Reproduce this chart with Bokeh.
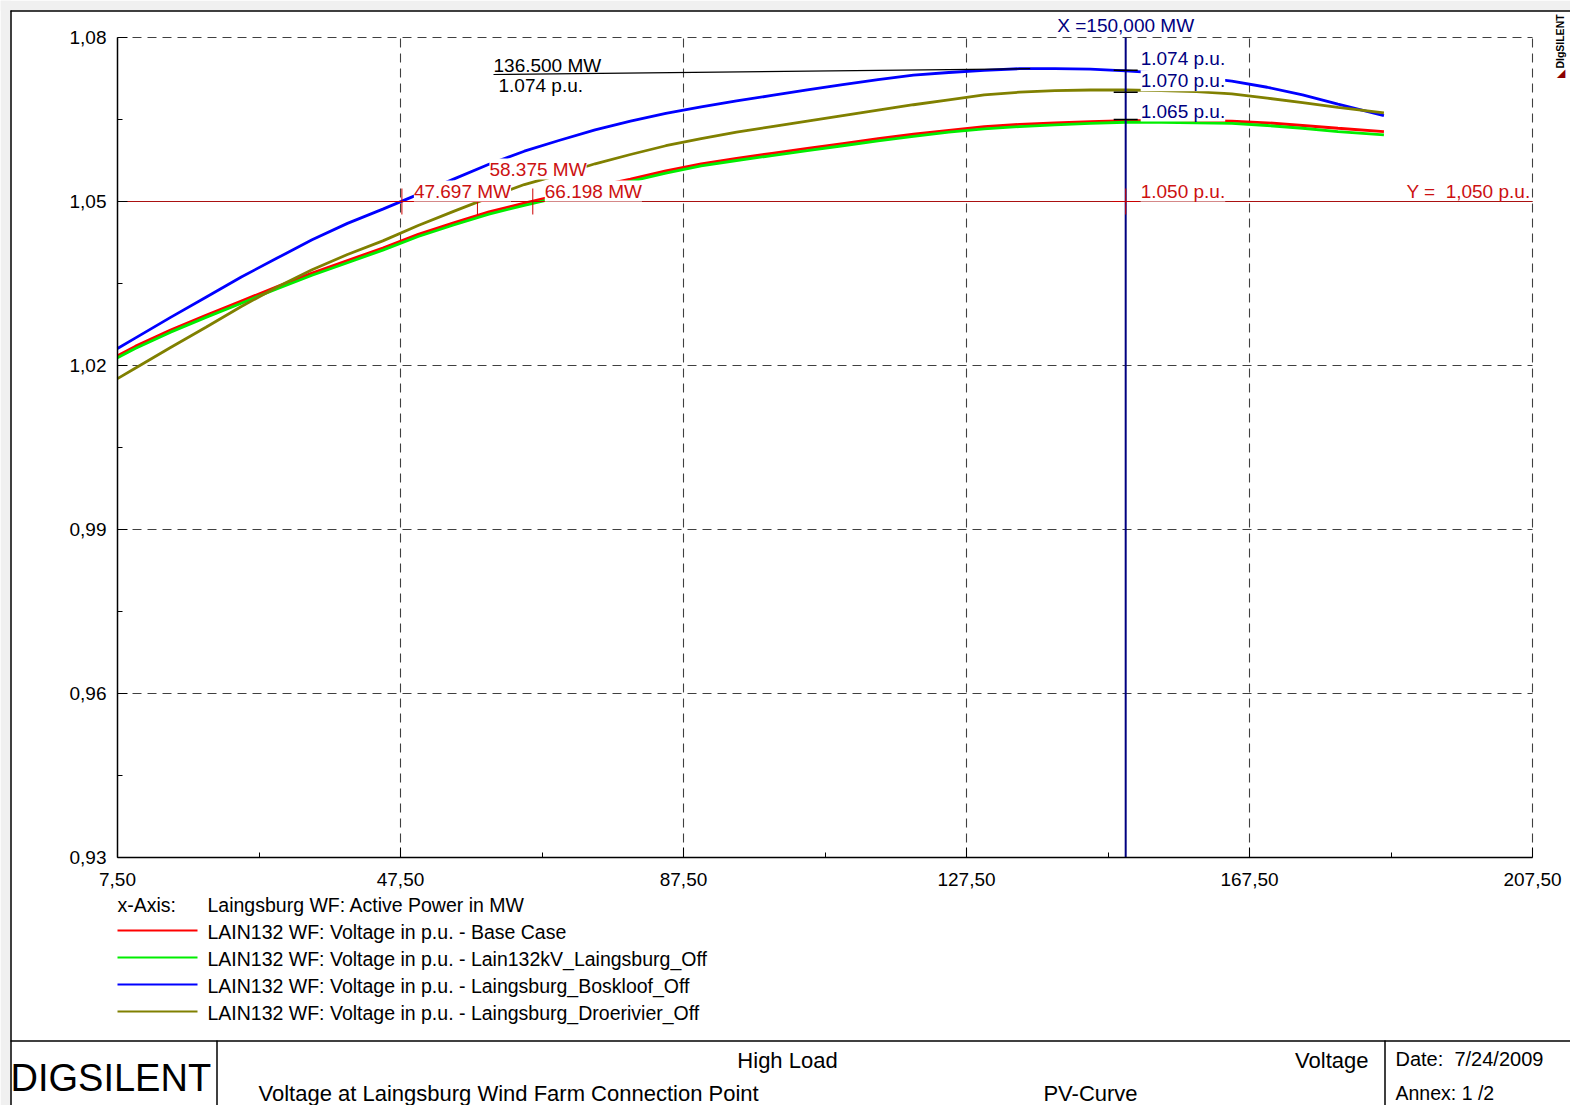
import math
from bokeh.plotting import figure
from bokeh.models import Range1d, FixedTicker, CustomJSTickFormatter, Label, LinearAxis
from bokeh.embed import file_html
from bokeh.resources import INLINE
from bokeh.core.properties import value

FONT = "Liberation Sans"

# ---------------- data ----------------
power_mw = [7.5, 10, 15, 20, 25, 30, 35, 40, 45, 50, 55, 60, 65, 70, 75, 80, 85, 90, 95, 100,
            105, 110, 115, 120, 125, 130, 135, 140, 145, 150, 155, 160, 165, 170, 175, 180, 186.5]
v_base_case = [1.0218, 1.0235, 1.0265, 1.0292, 1.0318, 1.0344, 1.0369, 1.0392, 1.0415, 1.0440,
               1.0461, 1.0481, 1.0497, 1.0512, 1.0527, 1.0541, 1.0556, 1.0569, 1.0579, 1.0588,
               1.0597, 1.0606, 1.0615, 1.0623, 1.0630, 1.0637, 1.0641, 1.0644, 1.0646, 1.0648,
               1.0648, 1.0648, 1.0647, 1.0644, 1.0639, 1.0634, 1.0628]
v_lain132_off = [1.0214, 1.0231, 1.0261, 1.0288, 1.0314, 1.0340, 1.0365, 1.0388, 1.0411, 1.0436,
                 1.0457, 1.0477, 1.0493, 1.0508, 1.0523, 1.0537, 1.0552, 1.0565, 1.0575, 1.0584,
                 1.0593, 1.0602, 1.0611, 1.0619, 1.0627, 1.0633, 1.0637, 1.0640, 1.0643, 1.0645,
                 1.0645, 1.0644, 1.0643, 1.0639, 1.0634, 1.0628, 1.0622]
v_boskloof_off = [1.0231, 1.0250, 1.0288, 1.0325, 1.0362, 1.0396, 1.0430, 1.0460, 1.0486, 1.0513,
                  1.0541, 1.0568, 1.0592, 1.0612, 1.0631, 1.0647, 1.0661, 1.0673, 1.0684, 1.0694,
                  1.0704, 1.0714, 1.0723, 1.0731, 1.0736, 1.0740, 1.0743, 1.0743, 1.0742, 1.0739,
                  1.0735, 1.0728, 1.0720, 1.0709, 1.0695, 1.0678, 1.0657]
v_droerivier_off = [1.0176, 1.0195, 1.0233, 1.0270, 1.0308, 1.0343, 1.0375, 1.0403, 1.0428, 1.0456,
                    1.0482, 1.0507, 1.0531, 1.0549, 1.0569, 1.0586, 1.0602, 1.0615, 1.0627, 1.0637,
                    1.0647, 1.0657, 1.0667, 1.0677, 1.0686, 1.0695, 1.0700, 1.0703, 1.0704, 1.0704,
                    1.0703, 1.0701, 1.0697, 1.0689, 1.0681, 1.0672, 1.0662]

series_names = ["Base Case", "Lain132kV_Laingsburg_Off", "Laingsburg_Boskloof_Off", "Laingsburg_Droerivier_Off"]
series_values = [v_base_case, v_lain132_off, v_boskloof_off, v_droerivier_off]
series_colors = ["#ff0000", "#00ee00", "#0000ff", "#808000"]

x_ticks = [7.5, 47.5, 87.5, 127.5, 167.5, 207.5]
x_minor = [27.5, 67.5, 107.5, 147.5, 187.5]
y_ticks = [0.93, 0.96, 0.99, 1.02, 1.05, 1.08]
y_minor = [0.945, 0.975, 1.005, 1.035, 1.065]

threshold_pu = 1.05
crossing_mw = [47.697, 58.375, 66.198]
cursor_mw = 150.0
cursor_pu = [1.074, 1.070, 1.065]
peak_mw = 136.5
peak_pu = 1.0743

x_axis_title = "Laingsburg WF: Active Power in MW"
y_series_prefix = "LAIN132 WF: Voltage in p.u. - "

# ---------------- page geometry (pixels) ----------------
W, H = 1570, 1105
PL, PR, PT, PB = 117, 1532, 37, 857          # plot box on the page
x_min, x_max = x_ticks[0], x_ticks[-1]
y_min, y_max = y_ticks[0], y_ticks[-1]
sx = (PR - PL) / (x_max - x_min)
sy = (PB - PT) / (y_max - y_min)
x_start = x_min - PL / sx
y_end = y_max + PT / sy

def X(px):
    return x_start + px / sx

def Y(py):
    return y_end - py / sy

p = figure(width=W, height=H,
           x_range=Range1d(x_start, X(W)), y_range=Range1d(Y(H), y_end),
           min_border=0, x_axis_type=None, y_axis_type=None,
           output_backend="svg", toolbar_location=None)
p.outline_line_color = None
p.grid.visible = False
p.background_fill_color = "white"
p.border_fill_color = "white"

# page background strips and frame
p.quad(left=[X(0), X(0)], right=[X(10), X(W)], top=[Y(0), Y(0)], bottom=[Y(H), Y(10)],
       fill_color="#f0f0f0", line_color=None)
p.segment(x0=[X(10.5), X(10)], y0=[Y(10), Y(10.5)], x1=[X(10.5), X(W)], y1=[Y(H), Y(10.5)],
          line_color="black", line_width=1.5)

# grid (dashed), limited to the plot box
p.segment(x0=x_ticks[1:], y0=[y_min] * 5, x1=x_ticks[1:], y1=[y_max] * 5,
          line_color="#404040", line_width=1.1, line_dash="9 6")
p.segment(x0=[x_min] * 5, y0=y_ticks[1:], x1=[x_max] * 5, y1=y_ticks[1:],
          line_color="#404040", line_width=1.1, line_dash="9 6")

# axes
fmt = CustomJSTickFormatter(code="return tick.toFixed(2).replace('.', ',');")
xaxis = LinearAxis(fixed_location=y_min, bounds=(x_min, x_max),
                   ticker=FixedTicker(ticks=x_ticks, minor_ticks=x_minor), formatter=fmt)
yaxis = LinearAxis(fixed_location=x_min, bounds=(y_min, y_max),
                   ticker=FixedTicker(ticks=y_ticks, minor_ticks=y_minor), formatter=fmt)
for ax, so in ((xaxis, 15), (yaxis, 11)):
    ax.axis_line_color = "black"
    ax.axis_line_width = 1.5
    ax.major_tick_in = 10
    ax.major_tick_out = 0
    ax.minor_tick_in = 5
    ax.minor_tick_out = 0
    ax.major_tick_line_color = "black"
    ax.minor_tick_line_color = "black"
    ax.major_label_text_font = FONT
    ax.major_label_text_font_size = "19px"
    ax.major_label_text_color = "black"
    ax.major_label_standoff = so
p.add_layout(xaxis, "below")
p.add_layout(yaxis, "left")

# threshold line
p.segment(x0=[x_min], y0=[threshold_pu], x1=[x_max], y1=[threshold_pu],
          line_color="#aa1111", line_width=1)

for vals, col in zip(series_values, series_colors):
    p.line(power_mw, vals, line_color=col, line_width=2.8)

# cursor line
p.segment(x0=[cursor_mw], y0=[y_min], x1=[cursor_mw], y1=[y_max], line_color="#000080", line_width=2)

# markers
p.scatter(crossing_mw + [cursor_mw], [threshold_pu] * 4, marker="cross", size=26,
          line_color="#cc0000", line_width=1)
p.scatter([cursor_mw] * 3, cursor_pu, marker="dash", size=24, line_color="black", line_width=1.5)

# peak callout
cal_x, cal_y = X(493), Y(74)
p.segment(x0=[cal_x], y0=[cal_y], x1=[peak_mw], y1=[peak_pu], line_color="black", line_width=1.2)

def lab(x, y, text, color, **kw):
    opts = dict(text_font=FONT, text_font_size="19px", text_color=color)
    opts.update(kw)
    p.add_layout(Label(x=x, y=y, text=text, **opts))

for mw, dy in zip(crossing_mw, [0, 22, 0]):
    lab(mw, threshold_pu, f"{mw:.3f} MW", "#cc1111", x_offset=12, y_offset=dy,
        text_baseline="bottom", background_fill_color="white")

lab(cursor_mw, threshold_pu, f"{threshold_pu:.3f} p.u.", "#cc1111", x_offset=15, y_offset=0,
    text_baseline="bottom", background_fill_color="white")
lab(x_max, threshold_pu, "Y =\u00a0 " + f"{threshold_pu:.3f}".replace(".", ",") + " p.u.",
    "#cc1111", x_offset=-2, y_offset=0, text_align="right", text_baseline="bottom")

for v, dy in zip(cursor_pu, [1, 1, -2]):
    lab(cursor_mw, v, f"{v:.3f} p.u.", "#000080", x_offset=15, y_offset=dy,
        text_baseline="bottom", background_fill_color="white")

lab(cursor_mw, y_max, "X =" + f"{cursor_mw:,.3f}".replace(".", ",") + " MW", "#000080",
    text_align="center", text_baseline="bottom", y_offset=2)

lab(cal_x, cal_y, f"{peak_mw:.3f} MW", "black", text_baseline="bottom", y_offset=-1)
lab(cal_x, cal_y, f"{peak_pu:.3f} p.u.", "black", text_baseline="top", x_offset=5, y_offset=0)

lab(X(1559), Y(41), "DIgSILENT", "black", angle=math.pi / 2,
    text_align="center", text_baseline="middle", text_font_size="10.5px", text_font_style="bold")
lab(X(1559), Y(73), "\u25e3", "#8b0000", angle=math.pi / 2,
    text_align="center", text_baseline="middle", text_font_size="11px")

# ---------------- legend ----------------
def ptext(px, py, text, size="19.5px", align="left"):
    p.text(x=[X(px)], y=[Y(py)], text=[text], text_font=value(FONT), text_font_size=size,
           text_baseline="middle", text_align=align, text_color="black")

ptext(117, 904, "x-Axis:")
ptext(207, 904, x_axis_title)
for i, (name, col) in enumerate(zip(series_names, series_colors)):
    yy = 930 + 27 * i
    p.segment(x0=[X(117)], y0=[Y(yy)], x1=[X(197)], y1=[Y(yy)], line_color=col, line_width=2)
    ptext(207, yy + 1, y_series_prefix + name)

# ---------------- title block ----------------
p.segment(x0=[X(10), X(216.5), X(1384.5)], y0=[Y(1040.5), Y(1040), Y(1040)],
          x1=[X(W), X(216.5), X(1384.5)], y1=[Y(1040.5), Y(H), Y(H)],
          line_color="black", line_width=1.5)
ptext(10, 1077, "DIGSILENT", size="38px")
ptext(787, 1060, "High Load", size="22px", align="center")
ptext(1368, 1060, "Voltage", size="22px", align="right")
ptext(258, 1093, "Voltage at Laingsburg Wind Farm Connection Point", size="22px")
ptext(1090, 1093, "PV-Curve", size="22px", align="center")
ptext(1395, 1058, "Date:\u00a0 7/24/2009", size="20px")
ptext(1395, 1092, "Annex: 1 /2", size="19.5px")

open("out.html", "w").write(file_html(p, INLINE))
